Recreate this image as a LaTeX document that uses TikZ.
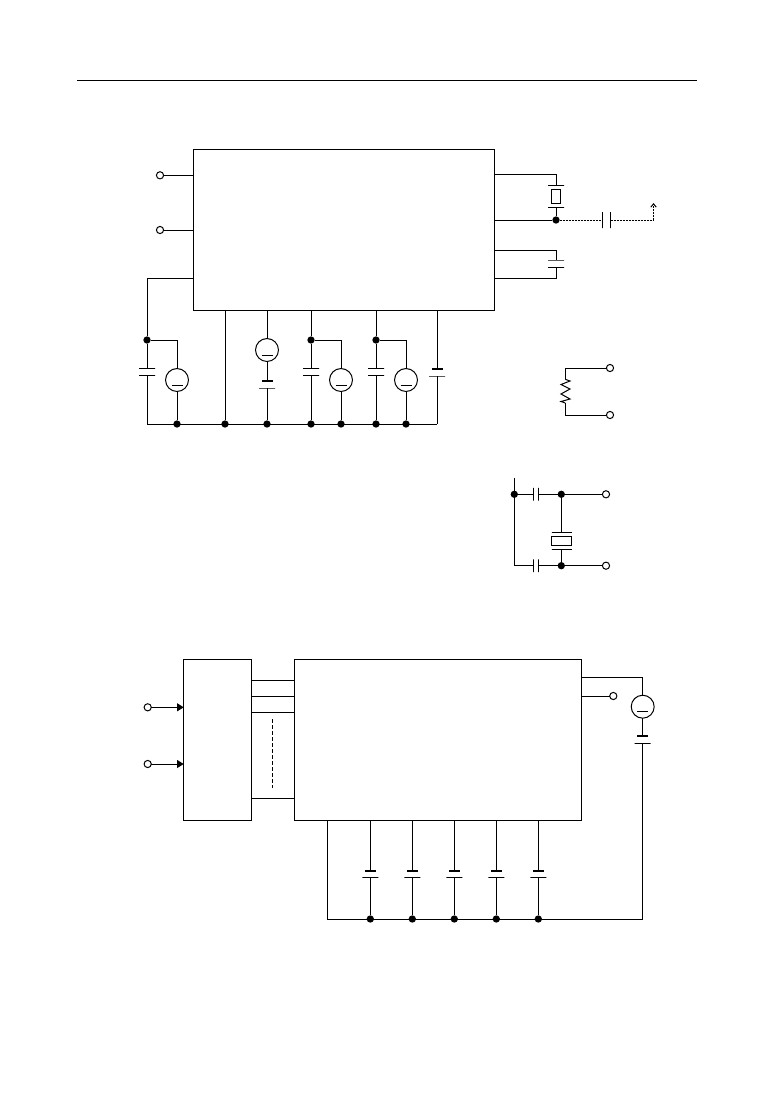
\documentclass[tikz,border=0pt]{standalone}
\usepackage{tikz}
\usetikzlibrary{arrows.meta, calc}

\begin{document}
\begin{tikzpicture}[
        x=0.75pt, y=-0.75pt,
        every path/.style={line width=0.75pt},
        block/.style={draw, rectangle, inner sep=0pt, outer sep=0pt},
        dot/.style={circle, fill=black, inner sep=0pt, outer sep=0pt, minimum size=5.5pt},
        terminal/.style={circle, draw, fill=white, inner sep=0pt, outer sep=0pt, minimum size=5.4pt},
        plate/.style={draw, rectangle, inner sep=0pt, outer sep=0pt, minimum width=12pt, minimum height=0pt},
        vplate/.style={draw, rectangle, inner sep=0pt, outer sep=0pt, minimum height=12pt, minimum width=0pt},
        thickplate/.style={draw, fill=black, rectangle, inner sep=0pt, outer sep=0pt, minimum width=7.5pt, minimum height=1pt},
        source/.style={circle, draw, inner sep=0pt, outer sep=0pt, minimum size=17.2pt,
            path picture={\draw ($(path picture bounding box.center)+(-5.5,5)$) -- ($(path picture bounding box.center)+(5.5,5)$);}},
        crystal/.style={block, minimum width=6.8pt, minimum height=10.5pt},
        arrow/.style={-{Triangle[length=5pt,width=6pt]}},
        dottedwire/.style={dash pattern=on 1.5pt off 0.75pt}
      ]
        \useasboundingbox (0,0) rectangle (774,1093);

        % Header rule
        \coordinate (rule_l) at (77,80.5);
        \coordinate (rule_r) at (697,80.5);
        \draw (rule_l) -- (rule_r);

        % Upper block and its terminals
        \node (ic_top) [block, minimum width=226.2pt, minimum height=120.75pt] at (343.8,229.5) {};
        \node (in1) [terminal] at (160,175.3) {};
        \node (in2) [terminal] at (160,230) {};
        \draw (in1) -- (in1 -| ic_top.west);
        \draw (in2) -- (in2 -| ic_top.west);

        % Supply rail nodes
        \coordinate (in3) at (193,278);
        \coordinate (rail_l) at (147,424);
        \coordinate (rail_r) at (437,424);
        \node (tap1) [dot] at (147,340) {};
        \node (tap2) [dot] at (311,340) {};
        \node (tap3) [dot] at (376,340) {};
        \node (gnd1) [dot] at (177,424) {};
        \node (gnd2) [dot] at (225,424) {};
        \node (gnd3) [dot] at (267,424) {};
        \node (gnd4) [dot] at (311,424) {};
        \node (gnd5) [dot] at (341,424) {};
        \node (gnd6) [dot] at (376,424) {};
        \node (gnd7) [dot] at (406,424) {};
        \draw (rail_l) -- (rail_r);

        % Sources
        \node (src1) [source] at (177,380) {};
        \node (src2) [source] at (267,350) {};
        \node (src3) [source] at (341,380) {};
        \node (src4) [source] at (406,380) {};

        % Capacitors below the block
        \node (c1a) [plate] at (147,368.5) {};
        \node (c1b) [plate] at (147,375.5) {};
        \node (c2a) [thickplate] at (267,381) {};
        \node (c2b) [plate] at (267,388) {};
        \node (c3a) [plate] at (311,368.5) {};
        \node (c3b) [plate] at (311,375.5) {};
        \node (c4a) [plate] at (376,368.5) {};
        \node (c4b) [plate] at (376,375.5) {};
        \node (c5a) [thickplate] at (437,369) {};
        \node (c5b) [plate] at (437,376) {};

        % Wiring below the block
        \draw (in3) -| (tap1);
        \draw (tap1) -- (c1a);
        \draw (c1b) |- (rail_l);
        \draw (tap1) -| (src1);
        \draw (src1) -- (gnd1);
        \draw (gnd2) -- (gnd2 |- ic_top.south);
        \draw (src2 |- ic_top.south) -- (src2);
        \draw (src2) -- (c2a);
        \draw (c2b) -- (gnd3);
        \draw (tap2 |- ic_top.south) -- (tap2);
        \draw (tap2) -- (c3a);
        \draw (c3b) -- (gnd4);
        \draw (tap2) -| (src3);
        \draw (src3) -- (gnd5);
        \draw (tap3 |- ic_top.south) -- (tap3);
        \draw (tap3) -- (c4a);
        \draw (c4b) -- (gnd6);
        \draw (tap3) -| (src4);
        \draw (src4) -- (gnd7);
        \draw (c5a |- ic_top.south) -- (c5a);
        \draw (c5b) -- (rail_r);

        % Crystal and capacitors at the right
        \coordinate (xt1) at (494.7,174.3);
        \coordinate (xt2) at (494.7,220);
        \coordinate (cp1) at (494.7,250.3);
        \coordinate (cp2) at (494.7,278);
        \node (x1a) [plate] at (556,185.5) {};
        \node (x1) [crystal] at (556,196.3) {};
        \node (x1b) [plate] at (556,207.3) {};
        \node (xdot) [dot] at (556,220) {};
        \node (c6a) [plate] at (556,260) {};
        \node (c6b) [plate] at (556,267.3) {};
        \node (c7a) [vplate] at (602.5,220) {};
        \node (c7b) [vplate] at (610.5,220) {};
        \coordinate (out_c) at (653.5,220);
        \coordinate (out) at (653.5,203);
        \draw (xt1) -| (x1a);
        \draw (x1b) -- (xdot);
        \draw (xt2) -- (xdot);
        \draw (cp1) -| (c6a);
        \draw (cp2) -| (c6b);
        \draw [dottedwire] (xdot) -- (c7a);
        \draw [dottedwire] (c7b) -- (out_c);
        \draw [dottedwire, -{Straight Barb[length=2.5pt,width=4pt]}] (out_c) -- (out);

        % Resistor
        \node (rt1) [terminal] at (610,368) {};
        \node (rt2) [terminal] at (610,415) {};
        \coordinate (r_a) at (565.3,379.3);
        \coordinate (r_b) at (565.3,403);
        \draw (rt1) -| (r_a);
        \draw (rt2) -| (r_b);
        \draw (r_a) -- (570,381) -- (561,384.5) -- (570,389) -- (561,394) -- (570,399) -- (561,401.5) -- (r_b);

        % Crystal network
        \coordinate (xn_top) at (514.3,478);
        \coordinate (xn_low) at (514.3,565.7);
        \node (xn_d1) [dot] at (514.3,494.3) {};
        \node (xn_d2) [dot] at (561.3,494.3) {};
        \node (xn_d3) [dot] at (561.3,565.7) {};
        \node (xt3) [terminal] at (606,494.3) {};
        \node (xt4) [terminal] at (606,565.7) {};
        \node (c8a) [vplate, minimum height=9.5pt] at (533.3,494.3) {};
        \node (c8b) [vplate, minimum height=9.5pt] at (538.7,494.3) {};
        \node (c9a) [vplate, minimum height=9.5pt] at (533.3,565.7) {};
        \node (c9b) [vplate, minimum height=9.5pt] at (538.7,565.7) {};
        \node (x2a) [plate, minimum width=15pt] at (561.8,532.7) {};
        \node (x2) [crystal, minimum width=15pt, minimum height=6.5pt] at (561.8,541) {};
        \node (x2b) [plate, minimum width=15pt] at (561.8,549.3) {};
        \draw (xn_top) -- (xn_low);
        \draw (xn_low) -- (c9a);
        \draw (xn_d1) -- (c8a);
        \draw (c8b) -- (xn_d2);
        \draw (c9b) -- (xn_d3);
        \draw (xn_d2) -- (xt3);
        \draw (xn_d3) -- (xt4);
        \draw (xn_d2) -- (xn_d2 |- x2a.north);
        \draw (xn_d3) -- (xn_d3 |- x2b.south);

        % Lower blocks
        \node (ic_in) [block, minimum width=50.7pt, minimum height=120.75pt] at (217.5,739.8) {};
        \node (ic_main) [block, minimum width=215.5pt, minimum height=120.75pt] at (438.2,739.8) {};
        \node (lt1) [terminal] at (147.7,707.3) {};
        \node (lt2) [terminal] at (147.7,764) {};
        \draw [arrow] (lt1) -- (lt1 -| ic_in.west);
        \draw [arrow] (lt2) -- (lt2 -| ic_in.west);

        % Bus between the lower blocks
        \coordinate (bus1) at (251.3,680.3);
        \coordinate (bus2) at (251.3,696.3);
        \coordinate (bus3) at (251.3,712.3);
        \coordinate (bus4) at (251.3,798.3);
        \coordinate (bus_a) at (272.3,719);
        \coordinate (bus_b) at (272.3,788.3);
        \draw (bus1) -- (bus1 -| ic_main.west);
        \draw (bus2) -- (bus2 -| ic_main.west);
        \draw (bus3) -- (bus3 -| ic_main.west);
        \draw (bus4) -- (bus4 -| ic_main.west);
        \draw [dash pattern=on 3pt off 1.5pt] (bus_a) -- (bus_b);

        % Right side of the main block
        \coordinate (sup) at (581.3,677.3);
        \coordinate (mon) at (581.3,696);
        \node (lt3) [terminal] at (613.3,696) {};
        \node (src5) [source] at (642.7,706.7) {};
        \node (c10a) [thickplate] at (642.7,736) {};
        \node (c10b) [plate] at (642.7,743.7) {};
        \coordinate (lrail_r) at (642.7,919);
        \coordinate (lrail_l) at (327.3,919);
        \draw (sup) -| (src5);
        \draw (mon) -- (lt3);
        \draw (src5) -- (c10a);
        \draw (c10b) -- (lrail_r);
        \draw (lrail_r) -- (lrail_l);
        \draw (lrail_l) -- (lrail_l |- ic_main.south);

        % Bypass capacitors
        \node (l1) [dot] at (370.3,919) {};
        \node (l2) [dot] at (412.3,919) {};
        \node (l3) [dot] at (454.3,919) {};
        \node (l4) [dot] at (496.3,919) {};
        \node (l5) [dot] at (538.3,919) {};
        \node (b1a) [thickplate] at (370.3,871) {};
        \node (b2a) [thickplate] at (412.3,871) {};
        \node (b3a) [thickplate] at (454.3,871) {};
        \node (b4a) [thickplate] at (496.3,871) {};
        \node (b5a) [thickplate] at (538.3,871) {};
        \node (b1b) [plate] at (370.3,877.3) {};
        \node (b2b) [plate] at (412.3,877.3) {};
        \node (b3b) [plate] at (454.3,877.3) {};
        \node (b4b) [plate] at (496.3,877.3) {};
        \node (b5b) [plate] at (538.3,877.3) {};
        \draw (b1a |- ic_main.south) -- (b1a);
        \draw (b2a |- ic_main.south) -- (b2a);
        \draw (b3a |- ic_main.south) -- (b3a);
        \draw (b4a |- ic_main.south) -- (b4a);
        \draw (b5a |- ic_main.south) -- (b5a);
        \draw (b1b) -- (l1);
        \draw (b2b) -- (l2);
        \draw (b3b) -- (l3);
        \draw (b4b) -- (l4);
        \draw (b5b) -- (l5);
      \end{tikzpicture}
\end{document}
